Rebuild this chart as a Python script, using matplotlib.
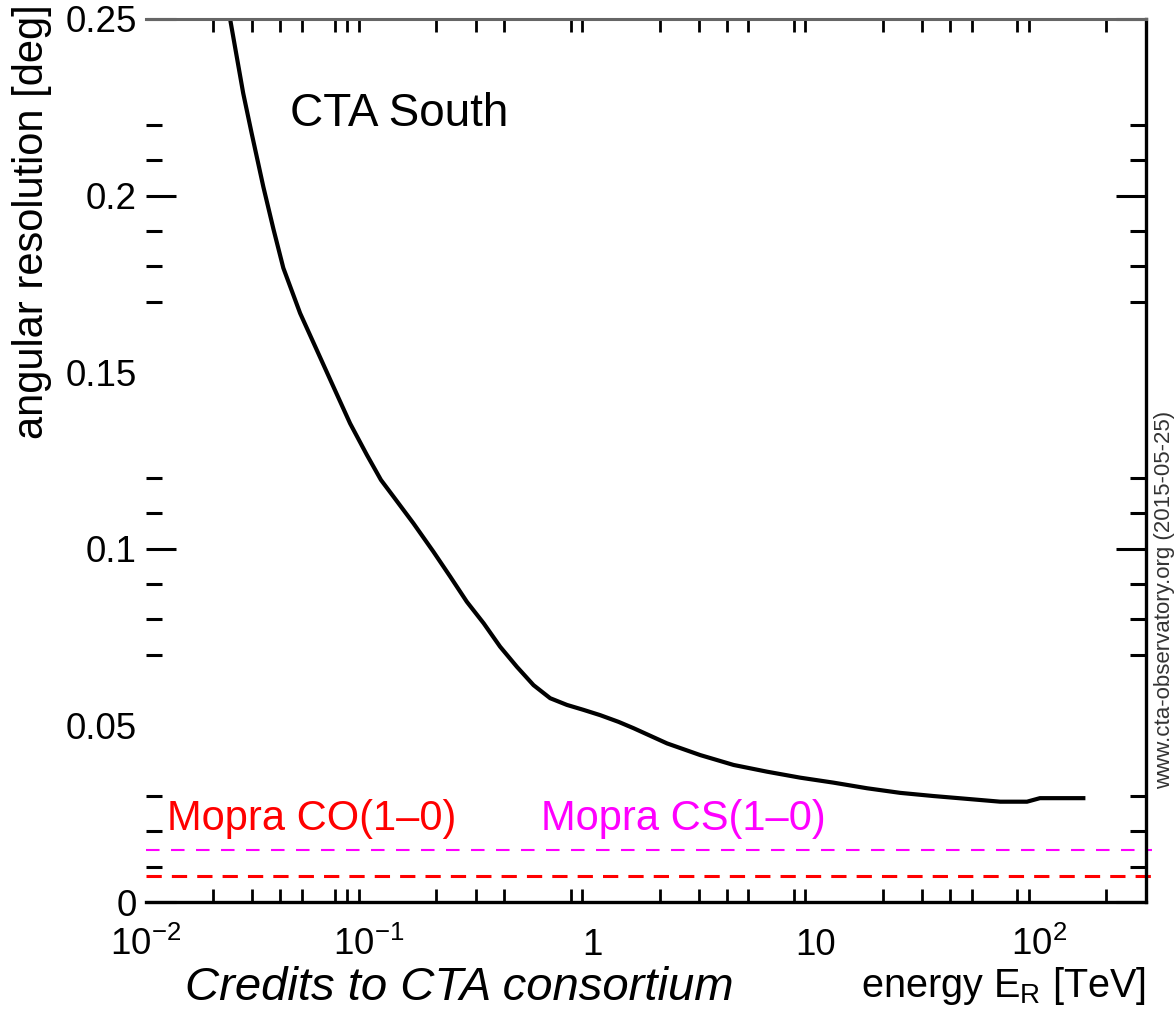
import matplotlib

matplotlib.use("Agg")
import matplotlib.pyplot as plt
from matplotlib.ticker import FixedLocator, FixedFormatter, NullFormatter

# CTA South angular resolution vs reconstructed energy
energy_tev = [0.0237, 0.0273, 0.0298, 0.0336, 0.0373, 0.0413, 0.0491, 0.0583,
              0.0692, 0.0822, 0.0977, 0.113, 0.1285, 0.158, 0.194, 0.231,
              0.274, 0.326, 0.386, 0.459, 0.545, 0.647, 0.769, 0.912, 1.084,
              1.31, 1.53, 2.16, 3.04, 4.29, 6.05, 8.53, 12.0, 17.0, 23.9,
              33.7, 47.6, 67.1, 88.4, 101.0, 158.0]
resolution_deg = [0.251, 0.229, 0.2176, 0.2025, 0.1905, 0.1795, 0.1667, 0.1563,
                  0.1459, 0.1355, 0.1266, 0.1195, 0.1148, 0.1072, 0.0992, 0.0921,
                  0.085, 0.0789, 0.0723, 0.0666, 0.0614, 0.0577, 0.0558, 0.0544,
                  0.0529, 0.051, 0.0492, 0.0449, 0.0416, 0.0388, 0.0369, 0.0352,
                  0.0338, 0.0322, 0.0309, 0.0300, 0.0292, 0.0284, 0.0284, 0.0294,
                  0.0294]

# Mopra beam sizes (deg), drawn across the whole energy range
mopra_span = [0.01, 320.0]
mopra_co = 0.0074
mopra_cs = 0.0147

x_major = [0.01, 0.1, 1, 10, 100]
x_major_labels = [r"$10^{-2}$", r"$10^{-1}$", "1", "10", r"$10^{2}$"]
x_minor = [0.02, 0.03, 0.04, 0.05, 0.07, 0.08, 0.09,
           0.2, 0.3, 0.4, 0.8, 0.9,
           2, 3, 4, 5, 8, 9,
           20, 30, 40, 50, 80, 90,
           200]
y_major = [0.0, 0.05, 0.1, 0.15, 0.2, 0.25]
y_major_labels = ["0", "0.05", "0.1", "0.15", "0.2", "0.25"]
y_minor = [0.01, 0.02, 0.03, 0.07, 0.08, 0.09, 0.11, 0.12,
           0.17, 0.18, 0.19, 0.21, 0.22]

plt.rcParams["font.family"] = ["Liberation Sans", "DejaVu Sans"]
plt.rcParams["mathtext.fontset"] = "custom"
plt.rcParams["mathtext.rm"] = "Liberation Sans"
plt.rcParams["mathtext.it"] = "Liberation Sans:italic"
plt.rcParams["mathtext.default"] = "regular"

W, H = 1175, 1016


def fx(px):
    return px / W


def fy(py):
    return 1 - py / H


fig = plt.figure(figsize=(W / 100, H / 100), dpi=100)
ax = fig.add_axes([fx(145.8), fy(902), fx(1145.5) - fx(145.8), fy(19) - fy(902)])

ax.plot(energy_tev, resolution_deg, color="black", lw=3.0, solid_joinstyle="round")
ax.plot(mopra_span, [mopra_cs, mopra_cs], color="#ff00ff", lw=1.5,
        dashes=(6.5, 5.5), clip_on=False)
ax.plot(mopra_span, [mopra_co, mopra_co], color="#ff0000", lw=2.2,
        dashes=(5, 3.3), clip_on=False)

ax.set_xscale("log")
ax.set_xlim(0.01, 300)
ax.set_ylim(0, 0.25)

ax.xaxis.set_major_locator(FixedLocator(x_major))
ax.xaxis.set_major_formatter(FixedFormatter(x_major_labels))
ax.xaxis.set_minor_locator(FixedLocator(x_minor))
ax.xaxis.set_minor_formatter(NullFormatter())
ax.yaxis.set_major_locator(FixedLocator(y_major))
ax.yaxis.set_major_formatter(FixedFormatter(y_major_labels))
ax.yaxis.set_minor_locator(FixedLocator(y_minor))

ax.tick_params(axis="x", which="major", length=0, pad=38, labelsize=26.5)
ax.tick_params(axis="x", which="minor", direction="in", length=9.4, width=2.0,
               top=True, bottom=True)
ax.tick_params(axis="y", which="major", direction="in", length=21.6, width=2.2,
               left=True, right=True, labelsize=26.5, pad=6.5)
ax.tick_params(axis="y", which="minor", direction="in", length=11.5, width=2.2,
               left=True, right=True)

for lab in ax.get_xticklabels():
    lab.set_verticalalignment("baseline")

# 0.05 and 0.15 keep their labels but carry no tick marks
for tick, val in zip(ax.yaxis.get_major_ticks(), y_major):
    if val in (0.05, 0.15):
        tick.tick1line.set_visible(False)
        tick.tick2line.set_visible(False)

ax.spines["left"].set_visible(False)
ax.spines["top"].set_color("#666666")
ax.spines["top"].set_linewidth(2.2)
ax.spines["right"].set_linewidth(2.4)
ax.spines["bottom"].set_linewidth(2.4)

fig.text(fx(290), fy(126), "CTA South", fontsize=33, va="baseline", ha="left")
fig.text(fx(167), fy(830), "Mopra CO(1–0)", color="#ff0000", fontsize=30,
         va="baseline", ha="left")
fig.text(fx(541), fy(830), "Mopra CS(1–0)", color="#ff00ff", fontsize=30,
         va="baseline", ha="left")
fig.text(fx(32), fy(4), "angular resolution [deg]", rotation=90, ha="center",
         va="top", fontsize=30)
fig.text(fx(1146), fy(997), r"energy E$_{R}$ [TeV]", ha="right", va="baseline",
         fontsize=28.5)
fig.text(fx(185), fy(1000), "Credits to CTA consortium", style="italic",
         fontsize=34, va="baseline", ha="left")
fig.text(fx(1165), fy(600), "www.cta-observatory.org (2015-05-25)", rotation=90,
         ha="center", va="center", fontsize=16, color="#333333")

fig.savefig("out.png", dpi=100)
